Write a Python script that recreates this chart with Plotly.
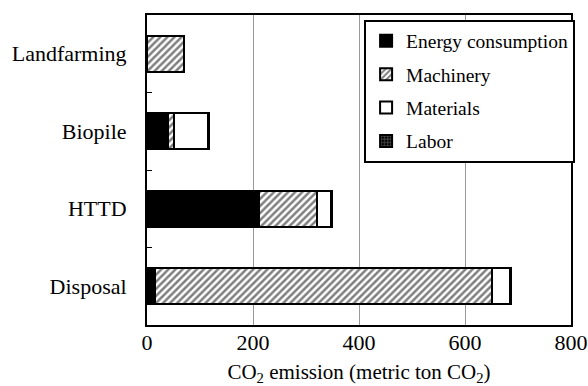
import plotly.graph_objects as go

categories = ["Disposal", "HTTD", "Biopile", "Landfarming"]
energy = [15, 211, 40, 0]
machinery = [636, 110, 10, 70]
materials = [34, 26, 66, 0]
labor = [1, 2, 1, 0.5]

font = "Liberation Serif"

fig = go.Figure()
fig.add_trace(go.Bar(y=categories, x=energy, orientation="h", name="Energy consumption",
                     legendgroup="a",
                     marker=dict(color="black", line=dict(color="black", width=2))))
fig.add_trace(go.Bar(y=categories, x=machinery, orientation="h", name="Machinery",
                     legendgroup="b",
                     marker=dict(color="white", line=dict(color="black", width=2),
                                 pattern=dict(shape="/", fgcolor="black", bgcolor="white", size=5, solidity=0.5))))
fig.add_trace(go.Bar(y=categories, x=materials, orientation="h", name="Materials",
                     legendgroup="c",
                     marker=dict(color="white", line=dict(color="black", width=2))))
fig.add_trace(go.Bar(y=categories, x=labor, orientation="h", name="Labor",
                     legendgroup="d",
                     marker=dict(color="black", line=dict(color="black", width=2),
                                 pattern=dict(shape="+", fgcolor="white", bgcolor="black", size=4, solidity=0.3))))

fig.update_layout(
    width=588, height=386,
    barmode="stack", bargap=0.53,
    margin=dict(l=147, r=17, t=15, b=61),
    plot_bgcolor="white", paper_bgcolor="white",
    font=dict(family=font, size=22, color="black"),
    legend=dict(x=0.512, y=0.985, xanchor="left", yanchor="top",
                bordercolor="black", borderwidth=2, bgcolor="white",
                font=dict(family=font, size=19.5), traceorder="grouped",
                tracegroupgap=5, itemwidth=30),
    xaxis=dict(range=[0, 800], tickvals=[0, 200, 400, 600, 800],
               showgrid=True, gridcolor="#999999", gridwidth=1,
               showline=True, linecolor="black", linewidth=2, mirror=True,
               ticks="", zeroline=False, ticklabelstandoff=-3, automargin=False,
               tickfont=dict(size=22),
               title=dict(text="CO<sub>2</sub> emission (metric ton CO<sub>2</sub>)", font=dict(size=21), standoff=12)),
    yaxis=dict(showline=True, linecolor="black", linewidth=2, mirror=True, automargin=False,
               ticks="inside", tickson="boundaries", ticklen=5, tickcolor="black",
               showgrid=False, ticklabelstandoff=14, tickfont=dict(size=22)),
)

fig.write_html("out.html")
